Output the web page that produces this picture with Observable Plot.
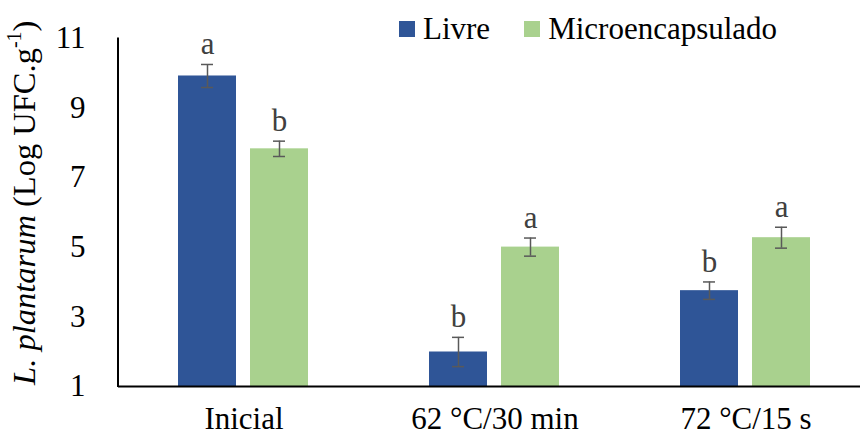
<!DOCTYPE html>
<html><head><meta charset="utf-8">
<script src="https://cdn.jsdelivr.net/npm/d3@7"></script>
<script src="https://cdn.jsdelivr.net/npm/@observablehq/plot@0.6"></script>
<style>
body{margin:0;background:#fff;}
#wrap{position:relative;width:860px;height:438px;font-family:"Liberation Serif","Times New Roman",serif;}
#wrap svg text{font-family:"Liberation Serif","Times New Roman",serif !important;}
#legend{position:absolute;left:399px;top:11px;font-family:"Liberation Serif",serif !important;}
#legend *{font-family:"Liberation Serif","Times New Roman",serif !important;font-size:31px !important;color:#000 !important;}
#legend .lg-swatch{display:inline-flex;align-items:center;margin-right:34px !important;}
#legend .lg-swatch > svg{margin-right:8px !important;}
</style></head><body><div id="wrap"></div>
<script>
const categories = ["Inicial", "62 °C/30 min", "72 °C/15 s"];
const series = ["Livre", "Microencapsulado"];
const colors = ["#2F5597", "#A9D18E"];
const livre = [9.91, 1.99, 3.75];
const livreErr = [0.33, 0.42, 0.25];
const livreLetters = ["a", "b", "b"];
const micro = [7.82, 5.00, 5.27];
const microErr = [0.22, 0.26, 0.30];
const microLetters = ["b", "a", "a"];
const yTicks = [1, 3, 5, 7, 9, 11];

const data = categories.flatMap((c, i) => [
  {cat: c, s: series[0], v: livre[i], e: livreErr[i], l: livreLetters[i]},
  {cat: c, s: series[1], v: micro[i], e: microErr[i], l: microLetters[i]}
]);

const errStyle = {stroke: "#595959", strokeWidth: 1.5};
const plot = Plot.plot({
  width: 860, height: 438,
  marginLeft: 118, marginRight: -11, marginTop: 37.5, marginBottom: 52,
  style: {fontFamily: "'Liberation Serif', serif", fontSize: "31px", color: "#000", background: "#fff", overflow: "hidden"},
  fx: {domain: categories, padding: 0, label: null, tickSize: 0, tickPadding: 20, axis: "bottom"},
  x: {domain: series, axis: null, paddingInner: 0.194, paddingOuter: 0.84},
  y: {domain: [1, 11], ticks: yTicks, tickSize: 0, tickPadding: 33, label: null, tickFormat: d => d},
  color: {domain: series, range: colors},
  marks: [
    Plot.barY(data, {fx: "cat", x: "s", y1: 1, y2: "v", fill: "s"}),
    Plot.ruleX(data, {fx: "cat", x: "s", y1: d => d.v - d.e, y2: d => d.v + d.e, ...errStyle}),
    Plot.tickY(data, {fx: "cat", x: "s", y: d => d.v - d.e, insetLeft: 23, insetRight: 23, ...errStyle}),
    Plot.tickY(data, {fx: "cat", x: "s", y: d => d.v + d.e, insetLeft: 23, insetRight: 23, ...errStyle}),
    Plot.text(data, {fx: "cat", x: "s", y: d => d.v + d.e, text: "l", dy: -20, fill: "#404040", fontSize: 31}),
    Plot.ruleY([1], {strokeWidth: 2, stroke: "#000"})
  ]
});

const wrap = document.getElementById("wrap");
wrap.appendChild(plot);

const svg = d3.select(plot);
const ys = plot.scale("y");
svg.append("line")
  .attr("x1", 118).attr("x2", 118)
  .attr("y1", ys.apply(11)).attr("y2", ys.apply(1) + 1)
  .attr("stroke", "#000").attr("stroke-width", 2);

const lab = svg.append("text")
  .attr("transform", `translate(28,${(ys.apply(1) + ys.apply(11)) / 2 - 9}) rotate(-90)`)
  .attr("text-anchor", "middle")
  .attr("dominant-baseline", "middle")
  .attr("font-size", 32.5)
  .attr("fill", "#000");
lab.append("tspan").attr("font-style", "italic").text("L. plantarum");
lab.append("tspan").text(" (Log UFC.g");
lab.append("tspan").attr("font-size", 20).attr("dy", -12).text("-1");
lab.append("tspan").attr("dy", 12).text(")");

const legend = Plot.legend({color: {domain: series, range: colors}, swatchSize: 16, className: "lg"});
const ldiv = document.createElement("div");
ldiv.id = "legend";
ldiv.appendChild(legend);
wrap.appendChild(ldiv);
</script></body></html>
